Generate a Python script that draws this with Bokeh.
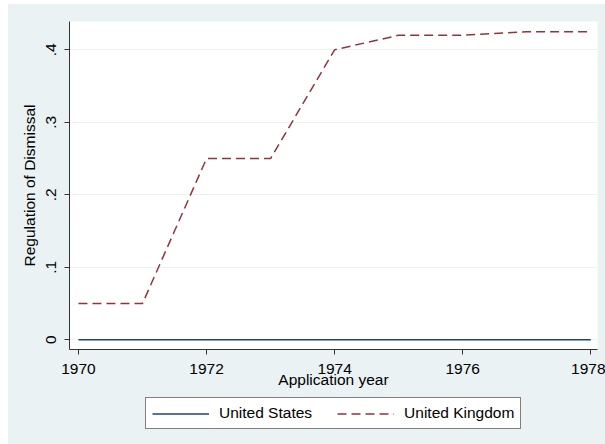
from bokeh.plotting import figure
from bokeh.models import Legend, LegendItem, FixedTicker, Range1d
from bokeh.layouts import column
from bokeh.embed import file_html
from bokeh.resources import INLINE

years = [1970, 1971, 1972, 1973, 1974, 1975, 1976, 1977, 1978]
us_values = [0, 0, 0, 0, 0, 0, 0, 0, 0]
uk_values = [0.05, 0.05, 0.25, 0.25, 0.40, 0.42, 0.42, 0.425, 0.425]
x_ticks = [1970, 1972, 1974, 1976, 1978]
y_ticks = [0, 0.1, 0.2, 0.3, 0.4]
y_tick_labels = ["0", ".1", ".2", ".3", ".4"]
series_names = ["United States", "United Kingdom"]

BG = "#EAF2F3"
NAVY = "#1A476F"
MAROON = "#90353B"
FONT = "Liberation Sans"
FS = "15.5px"
UK_DASH = "9 5"

# main chart: page y 4..394
p = figure(width=597, height=390, output_backend="svg", toolbar_location=None,
           x_range=Range1d(1969.86, 1978.105), y_range=Range1d(-0.0134, 0.439),
           min_border_left=61, min_border_right=8, min_border_top=17, min_border_bottom=45)

p.border_fill_color = BG
p.background_fill_color = "white"
p.outline_line_color = None

p.line(years, us_values, line_color=NAVY, line_width=1.5)
p.line(years, uk_values, line_color=MAROON, line_width=1.5, line_dash=UK_DASH)

p.xgrid.grid_line_color = None
p.ygrid.grid_line_color = BG
p.ygrid.grid_line_width = 1

p.xaxis.ticker = FixedTicker(ticks=x_ticks)
p.yaxis.ticker = FixedTicker(ticks=y_ticks)
p.yaxis.major_label_overrides = {t: l for t, l in zip(y_ticks, y_tick_labels)}
p.yaxis.major_label_orientation = "vertical"

for ax in (p.xaxis[0], p.yaxis[0]):
    ax.axis_line_color = "#333333"
    ax.major_tick_line_color = "#333333"
    ax.minor_tick_line_color = None
    ax.major_tick_in = 0
    ax.major_tick_out = 5
    ax.major_label_text_font = FONT
    ax.major_label_text_font_size = FS
    ax.major_label_text_color = "black"
    ax.axis_label_text_font = FONT
    ax.axis_label_text_font_size = FS
    ax.axis_label_text_font_style = "normal"
    ax.axis_label_text_color = "black"

p.xaxis.major_label_standoff = 9
p.yaxis.major_label_standoff = 8
p.xaxis.axis_label = "Application year"
p.xaxis.axis_label_standoff = -6
p.yaxis.axis_label = "Regulation of Dismissal"
p.yaxis.axis_label_standoff = 6

# legend strip: page y 394..444 (series drawn off-range so only the legend shows)
q = figure(width=597, height=50, output_backend="svg", toolbar_location=None,
           x_axis_location=None, y_axis_location=None,
           x_range=Range1d(0, 1), y_range=Range1d(0, 1),
           min_border_left=0, min_border_right=0, min_border_top=0, min_border_bottom=0)
q.grid.visible = False
q.outline_line_color = None
q.border_fill_color = BG
q.background_fill_color = BG
r_us = q.line(years, us_values, line_color=NAVY, line_width=1.5)
r_uk = q.line(years, uk_values, line_color=MAROON, line_width=1.5, line_dash=UK_DASH)

for fig in (p, q):
    if "frame_align" in fig.properties():
        fig.frame_align = False

legend = Legend(items=[LegendItem(label=series_names[0], renderers=[r_us]),
                       LegendItem(label=series_names[1], renderers=[r_uk])],
                location=(137, 15), orientation="horizontal")
legend.background_fill_color = "white"
legend.background_fill_alpha = 1
legend.border_line_color = "black"
legend.border_line_width = 1
legend.padding = 6
legend.margin = 0
legend.spacing = 25
legend.label_standoff = 10
legend.glyph_width = 57
legend.glyph_height = 15
legend.label_height = 15
legend.label_text_font = FONT
legend.label_text_font_size = FS
legend.label_text_color = "black"
q.add_layout(legend)

layout = column(p, q, spacing=0, margin=(4, 0, 0, 8), styles={"background-color": BG})
open("out.html", "w").write(file_html(layout, INLINE))
